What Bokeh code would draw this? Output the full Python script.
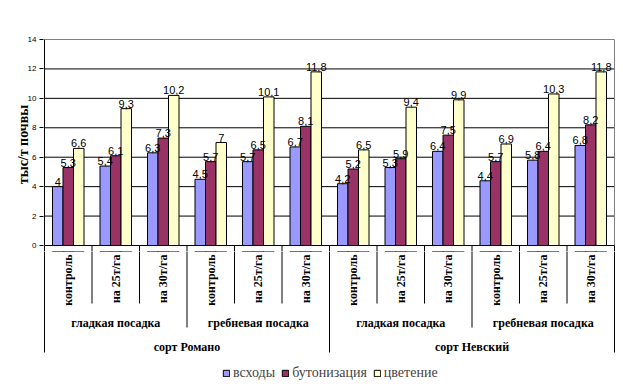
import numpy as np
from bokeh.plotting import figure
from bokeh.layouts import column
from bokeh.models import Range1d, FixedTicker, Legend, LegendItem
from bokeh.core.properties import value
from bokeh.embed import file_html
from bokeh.resources import INLINE

# ---------------- data ----------------
treatments = ["контроль", "на 25т/га", "на 30т/га"]
plantings = ["гладкая посадка", "гребневая посадка"]
varieties = ["сорт Романо", "сорт Невский"]
series_names = ["всходы", "бутонизация", "цветение"]
vskhody = [4.0, 5.4, 6.3, 4.5, 5.7, 6.7, 4.2, 5.3, 6.4, 4.4, 5.8, 6.8]
butonizaciya = [5.3, 6.1, 7.3, 5.7, 6.5, 8.1, 5.2, 5.9, 7.5, 5.7, 6.4, 8.2]
cvetenie = [6.6, 9.3, 10.2, 7.0, 10.1, 11.8, 6.5, 9.4, 9.9, 6.9, 10.3, 11.8]
y_ticks = [0, 2, 4, 6, 8, 10, 12, 14]
y_label = "тыс/т почвы"

# ---------------- layout constants ----------------
SERIF = "'Liberation Serif', 'Times New Roman', serif"
SANS = "'Liberation Sans', Arial, sans-serif"
W, H = 620, 385
FRAME_L = 43              # canvas x of frame left
GX = 47.5                 # px per category group
PY = 206.0 / 14.0         # px per y unit
Y0 = 245                  # canvas y of value 0
H1 = Y0 + 6               # height of the top (bars) figure
H2 = H - H1               # height of the bottom (category axis) figure
YMAX = y_ticks[-1]
n_groups = len(vskhody)
L1_DEPTH = -(303 - Y0) / PY
L2_DEPTH = -(327 - Y0) / PY
L3_DEPTH = -(352 - Y0) / PY
L1_TOP = -(254 - Y0) / PY
L2_Y = -(322 - Y0) / PY
L3_Y = -(346 - Y0) / PY
BW = 10.5 / GX
colors = ["#9999FF", "#993366", "#FFFFCC"]

x_start = -1 / GX
x_range = Range1d(x_start, x_start + (W - FRAME_L) / GX)
y_range1 = Range1d(-(H1 - Y0) / PY, YMAX + 2 / PY)
y_range2 = Range1d(-(H - Y0) / PY, -(H1 - Y0) / PY)

p = figure(width=W, height=H1, x_range=x_range, y_range=y_range1,
           x_axis_type=None, output_backend="svg", toolbar_location=None,
           min_border_left=FRAME_L, min_border_right=0,
           min_border_top=int(round(Y0 - YMAX * PY - 2)), min_border_bottom=0)
q = figure(width=W, height=H2, x_range=x_range, y_range=y_range2,
           x_axis_type=None, y_axis_type=None, output_backend="svg", toolbar_location=None,
           min_border_left=FRAME_L, min_border_right=0, min_border_top=0, min_border_bottom=0)
for f in (p, q):
    f.grid.visible = False
    f.outline_line_color = None
    f.background_fill_color = "white"
    f.border_fill_color = "white"

# ---------------- grid / frame lines ----------------
grid_vals = [t for t in y_ticks if 0 < t < YMAX]
p.segment(x0=[0] * len(grid_vals), x1=[n_groups] * len(grid_vals),
          y0=grid_vals, y1=grid_vals, line_color="black", line_width=1)
p.segment(x0=[0, n_groups], x1=[n_groups, n_groups], y0=[YMAX, 0], y1=[YMAX, YMAX],
          line_color="#808080", line_width=1)

# ---------------- bars ----------------
centers = np.arange(n_groups) + 0.5
offsets = [-BW, 0.0, BW]
series = [vskhody, butonizaciya, cvetenie]
def fmt(v):
    return f"{v:g}".replace(".", ",")
for vals, off, col in zip(series, offsets, colors):
    p.vbar(x=centers + off, top=vals, bottom=0, width=BW,
           fill_color=col, line_color="black", line_width=1)
for vals, off in zip(series, offsets):
    p.text(x=centers + off, y=vals, text=[fmt(v) for v in vals],
           text_align="center", text_baseline="bottom", y_offset=-1,
           text_font=value(SANS), text_font_size=value("11px"),
           text_color="black")

# axis lines
p.segment(x0=[0], x1=[n_groups], y0=[0], y1=[0], line_color="black", line_width=1)

# ---------------- multi-level category axis ----------------
sep_x = list(range(0, n_groups + 1))
sep_depth = [L3_DEPTH if k % 6 == 0 else (L2_DEPTH if k % 3 == 0 else L1_DEPTH) for k in sep_x]
for f in (p, q):
    f.segment(x0=[0], x1=[0], y0=[YMAX], y1=[0], line_color="black", line_width=1)
    f.segment(x0=sep_x, x1=sep_x, y0=[0] * len(sep_x), y1=sep_depth,
              line_color="black", line_width=1)

lvl1_text = treatments * (n_groups // len(treatments))
q.text(x=centers, y=[L1_TOP] * n_groups, text=lvl1_text, angle=np.pi / 2,
       text_align="right", text_baseline="middle",
       text_font=value(SERIF), text_font_style="bold",
       text_font_size=value("12px"), text_color="black")

lvl2_text = plantings * len(varieties)
lvl2_x = np.arange(len(lvl2_text)) * 3 + 1.5
q.text(x=lvl2_x, y=[L2_Y] * len(lvl2_text), text=lvl2_text,
       text_align="center", text_baseline="middle",
       text_font=value(SERIF), text_font_style="bold",
       text_font_size=value("12px"), text_color="black")

lvl3_x = np.arange(len(varieties)) * 6 + 3
q.text(x=lvl3_x, y=[L3_Y] * len(varieties), text=varieties,
       text_align="center", text_baseline="middle",
       text_font=value(SERIF), text_font_style="bold",
       text_font_size=value("12px"), text_color="black")

# ---------------- y axis ----------------
ax = p.yaxis[0]
ax.ticker = FixedTicker(ticks=y_ticks)
ax.bounds = (0, YMAX)
ax.axis_line_color = None
ax.major_tick_out = 4
ax.major_tick_in = 0
ax.major_tick_line_color = "black"
ax.minor_tick_line_color = None
ax.major_label_standoff = 3
ax.major_label_text_font = SANS
ax.major_label_text_font_size = "8px"
ax.major_label_text_color = "black"
ax.axis_label = y_label
ax.axis_label_text_font = SERIF
ax.axis_label_text_font_style = "bold"
ax.axis_label_text_font_size = "14px"
ax.axis_label_text_color = "black"
ax.axis_label_standoff = -6

# ---------------- legend (bottom figure; same bar data, out of this figure's view) ----------------
legend_bars = [q.vbar(x=centers + off, top=vals, bottom=0, width=BW,
                      fill_color=col, line_color="black", line_width=1)
               for vals, off, col in zip(series, offsets, colors)]
legend = Legend(items=[LegendItem(label=nm, renderers=[r]) for nm, r in zip(series_names, legend_bars)],
                location=(179, 4), orientation="horizontal",
                glyph_width=8, glyph_height=8, label_standoff=3, spacing=6,
                padding=0, margin=0, border_line_color=None, background_fill_alpha=0,
                label_text_font=SERIF, label_text_font_size="14px",
                label_height=14)
q.add_layout(legend)

layout = column(p, q, spacing=0)
open("out.html", "w").write(file_html(layout, INLINE))
